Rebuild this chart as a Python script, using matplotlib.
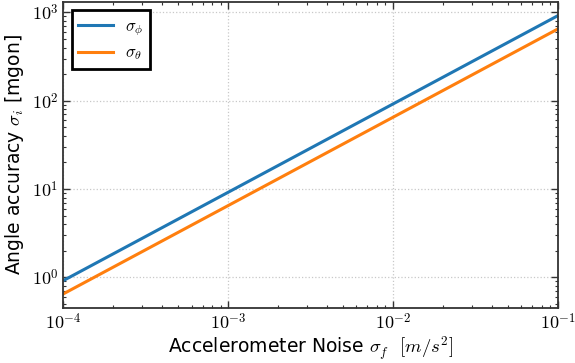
import numpy as np
import matplotlib
matplotlib.use('Agg')
import matplotlib.pyplot as plt
from matplotlib.ticker import FuncFormatter

plt.rcParams['mathtext.fontset'] = 'cm'
plt.rcParams['font.family'] = ['DejaVu Sans']

# Accelerometer noise [m/s^2] and angle accuracy [mgon]
noise = [1e-4, 1e-3, 1e-2, 1e-1]
sigma_phi = [0.918, 9.18, 91.8, 918]
sigma_theta = [0.649, 6.49, 64.9, 649]

fig = plt.figure(figsize=(5.75, 3.63), dpi=100)
ax = fig.add_axes([0.11, 0.152, 0.86, 0.843])

ax.plot(noise, sigma_phi, color='#1f77b4', lw=2.2, label=r'$\sigma_\phi$')
ax.plot(noise, sigma_theta, color='#ff7f0e', lw=2.2, label=r'$\sigma_\theta$')

ax.set_xscale('log')
ax.set_yscale('log')
ax.set_xlim(1e-4, 1e-1)

# tick labels in computer modern like the original
pow10 = FuncFormatter(lambda v, pos: r'$10^{%d}$' % round(np.log10(v)))
ax.xaxis.set_major_formatter(pow10)
ax.yaxis.set_major_formatter(pow10)

ax.grid(True, which='major', ls=':', color='#c8c8c8', lw=0.9)
ax.tick_params(which='both', direction='in', top=True, right=True, colors='#333333', labelcolor='black')
ax.tick_params(which='major', length=5, width=1, labelsize=13)
ax.tick_params(which='minor', length=2.5, width=0.8)
for s in ax.spines.values():
    s.set_color('#333333')
    s.set_linewidth(1.3)

ax.set_xlabel(r'Accelerometer Noise $\sigma_f$  $[m/s^2]$', fontsize=13.5, labelpad=1)
ax.set_ylabel(r'Angle accuracy $\sigma_i$ [mgon]', fontsize=13.5)

leg = ax.legend(loc='upper left', fontsize=12, fancybox=False, framealpha=1,
                handlelength=2.1, borderpad=0.4, labelspacing=0.35, handletextpad=0.7)
leg.get_frame().set_edgecolor('black')
leg.get_frame().set_linewidth(2)

fig.savefig('out.png', dpi=100)
